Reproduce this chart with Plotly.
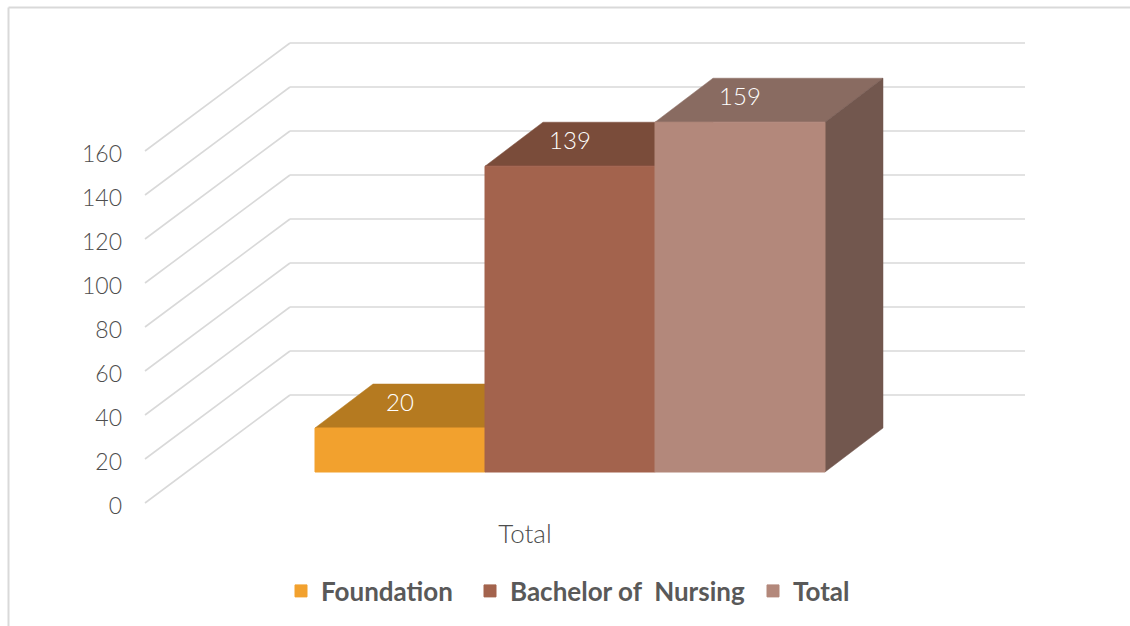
import plotly.graph_objects as go

# data
series = ['Foundation', 'Bachelor of  Nursing', 'Total']
values = [20, 139, 159]
category = ['Total']
y_ticks = [0, 20, 40, 60, 80, 100, 120, 140, 160]

front_colors = ['#F2A12E', '#A3634D', '#B3887B']
top_colors = ['#B57A20', '#7A4C3A', '#896B61']
side_colors = ['#7F5510', '#5E3A2C', '#72574E']

# the x axis runs in page pixels, the y axis in chart units (2.2 px per unit)
W, H = 1130, 626
PX_PER_UNIT = 2.2
ZERO_PX = 503
y_range = [(ZERO_PX - H) / PX_PER_UNIT, ZERO_PX / PX_PER_UNIT]

# oblique projection of the fake 3d box
WALL_X0, WALL_DX, WALL_DY = 145, 145, 108 / PX_PER_UNIT
WALL_X1 = 1025
BAR_LEFT, BAR_W = 315, 170
BAR_DX, BAR_DY = 58, 44 / PX_PER_UNIT
BASE = (ZERO_PX - 472) / PX_PER_UNIT

GREY = '#595959'
AXIS_GREY = '#4D4D4D'
GRID = '#D9D9D9'
FONT = 'Lato'

# one legend per series so each entry can sit at its own spot
legend_ids = ['legend', 'legend2', 'legend3']
legend_x = [281, 470, 753]

shapes = [
    # frame, only left and top show
    dict(type='line', xref='x', yref='paper', x0=8.5, x1=8.5, y0=0, y1=1 - 7.5 / H,
         line=dict(color=GRID, width=2), layer='below'),
    dict(type='line', xref='x', yref='paper', x0=8.5, x1=W, y0=1 - 7.5 / H, y1=1 - 7.5 / H,
         line=dict(color=GRID, width=2), layer='below'),
]
for t in y_ticks:
    shapes.append(dict(type='line', x0=WALL_X0, x1=WALL_X0 + WALL_DX, y0=t, y1=t + WALL_DY,
                       line=dict(color=GRID, width=1.6), layer='below'))
    shapes.append(dict(type='line', x0=WALL_X0 + WALL_DX, x1=WALL_X1, y0=t + WALL_DY, y1=t + WALL_DY,
                       line=dict(color=GRID, width=1.6), layer='below'))

fig = go.Figure()

for i, name in enumerate(series):
    x0 = BAR_LEFT + i * BAR_W
    x1 = x0 + BAR_W
    top = BASE + values[i]

    top_face = go.Scatter(x=[x0, x1, x1 + BAR_DX, x0 + BAR_DX, x0],
                          y=[top, top, top + BAR_DY, top + BAR_DY, top],
                          mode='lines', fill='toself', fillcolor=top_colors[i],
                          line=dict(color=top_colors[i], width=0.5),
                          showlegend=False, hoverinfo='skip', zorder=0)
    side_face = go.Scatter(x=[x1, x1 + BAR_DX, x1 + BAR_DX, x1, x1],
                           y=[BASE, BASE + BAR_DY, top + BAR_DY, top, BASE],
                           mode='lines', fill='toself', fillcolor=side_colors[i],
                           line=dict(color=side_colors[i], width=0.5),
                           showlegend=False, hoverinfo='skip', zorder=0)
    fig.add_trace(top_face)
    fig.add_trace(side_face)

for i, name in enumerate(series):
    fig.add_trace(go.Bar(x=[BAR_LEFT + (i + 0.5) * BAR_W], y=[values[i]], base=BASE, width=BAR_W,
                         name=name, legend=legend_ids[i],
                         marker=dict(color=front_colors[i], line=dict(width=1, color=front_colors[i])),
                         zorder=1))

for i, name in enumerate(series):
    fig.add_trace(go.Scatter(x=[BAR_LEFT + (i + 0.5) * BAR_W], y=[BASE + values[i] + 0.5 * BAR_DY + 0.6],
                             mode='text', text=[str(values[i])],
                             textfont=dict(family=FONT, size=24, color='white', weight=300),
                             showlegend=False, hoverinfo='skip', zorder=2))

layout_legends = {}
for i, lid in enumerate(legend_ids):
    layout_legends[lid] = dict(orientation='h', x=legend_x[i] / W, xanchor='left',
                               y=(H - 567.5) / H, yanchor='top',
                               font=dict(family=FONT, size=26, color=GREY, weight='bold'),
                               bgcolor='rgba(0,0,0,0)')

fig.update_layout(
    width=W, height=H,
    margin=dict(l=0, r=0, t=0, b=0),
    paper_bgcolor='white', plot_bgcolor='white',
    barmode='overlay',
    shapes=shapes,
    font=dict(family=FONT, color=GREY),
    xaxis=dict(range=[0, W], domain=[0, 1], anchor='free', position=(H - 516) / H,
               tickvals=[525], ticktext=category, showgrid=False, zeroline=False, showline=False,
               ticks='', tickfont=dict(size=26, color=AXIS_GREY, weight=300)),
    yaxis=dict(range=y_range, domain=[0, 1], anchor='free', position=122 / W,
               tickvals=y_ticks, showgrid=False, zeroline=False, showline=False, ticklabelshift=3,
               ticks='', tickfont=dict(size=23, color=AXIS_GREY, weight=300)),
    **layout_legends,
)

# page margin off so the chart sits at the window corner
fig.write_html("out.html", config={'displayModeBar': False},
               post_script="document.body.style.margin='0';document.body.style.overflow='hidden';")
